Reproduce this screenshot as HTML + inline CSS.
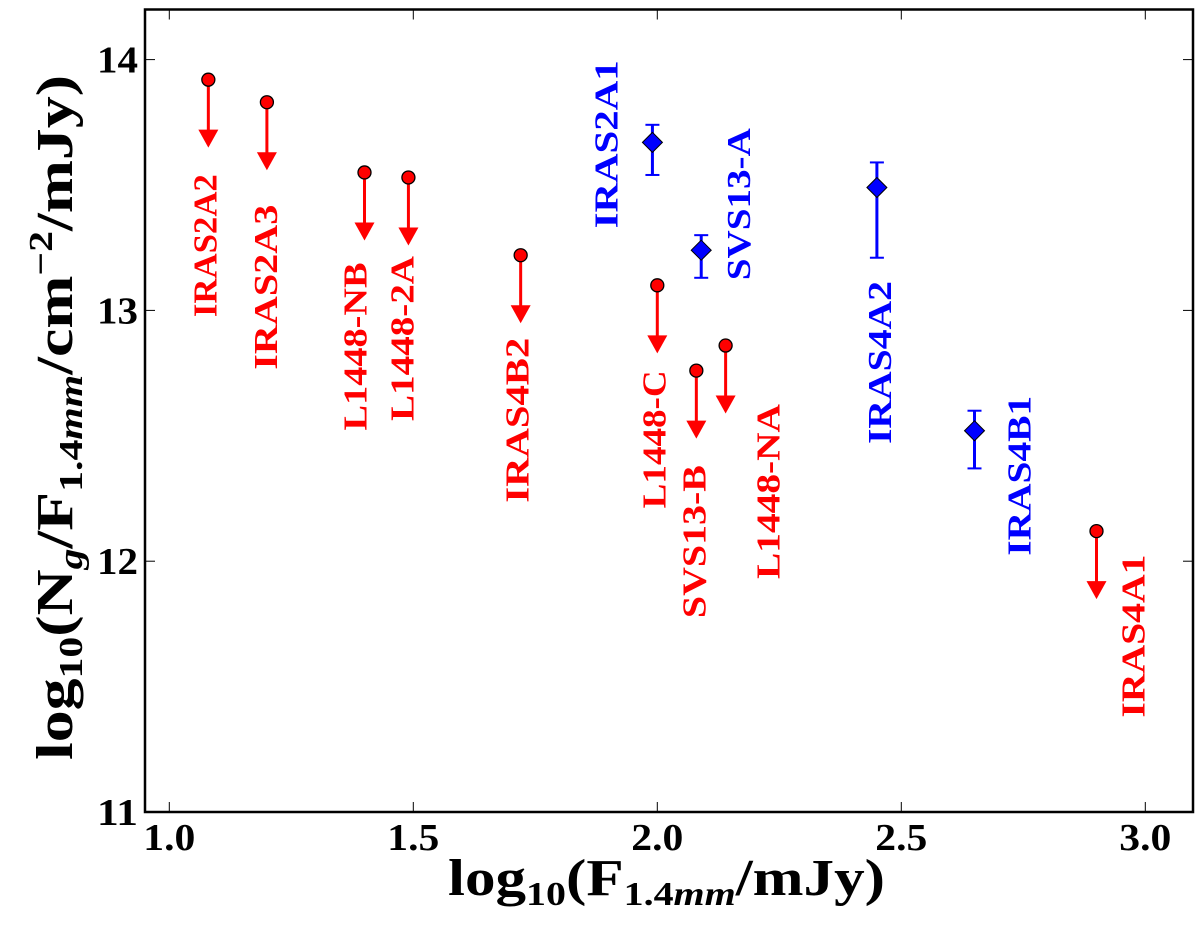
<!DOCTYPE html>
<html><head><meta charset="utf-8"><style>
body{margin:0;background:#fff;}
svg{display:block;font-family:"Liberation Serif",serif;font-weight:bold;}
</style></head><body>
<svg id="chart" width="1200" height="932" viewBox="0 0 1200 932" xmlns="http://www.w3.org/2000/svg">
<rect x="145" y="9.5" width="1048" height="802.5" fill="#fff" stroke="#000" stroke-width="2.5"/>
<g id="ticks"></g>
<g id="marks"></g>
<text x="448" y="895" font-size="52" textLength="437" lengthAdjust="spacingAndGlyphs">log<tspan font-size="34" dy="10">10</tspan><tspan dy="-10">(F</tspan><tspan font-size="34" dy="10">1.4<tspan font-style="italic">mm</tspan></tspan><tspan dy="-10">/mJy)</tspan></text>
<text transform="translate(72,760) rotate(-90)" font-size="52" textLength="685" lengthAdjust="spacingAndGlyphs">log<tspan font-size="34" dy="10">10</tspan><tspan dy="-10">(N</tspan><tspan font-size="34" font-style="italic" dy="10">g</tspan><tspan dy="-10">/F</tspan><tspan font-size="34" dy="10">1.4<tspan font-style="italic">mm</tspan></tspan><tspan dy="-10">/cm</tspan><tspan font-size="34" dy="-20">−2</tspan><tspan dy="20">/mJy)</tspan></text>
</svg>
<script>
const xTicks=[1.0,1.5,2.0,2.5,3.0];
const xTickLabels=["1.0","1.5","2.0","2.5","3.0"];
const yTicks=[11,12,13,14];
const yTickLabels=["11","12","13","14"];
const redNames=["IRAS2A2","IRAS2A3","L1448-NB","L1448-2A","IRAS4B2","L1448-C","SVS13-B","L1448-NA","IRAS4A1"];
const redX=[1.08,1.20,1.40,1.49,1.72,2.00,2.08,2.14,2.90];
const redY=[13.92,13.83,13.55,13.53,13.22,13.10,12.76,12.86,12.12];
const blueNames=["IRAS2A1","SVS13-A","IRAS4A2","IRAS4B1"];
const blueX=[1.99,2.09,2.45,2.65];
const blueY=[13.67,13.24,13.49,12.52];
const blueErrUp=[0.07,0.06,0.10,0.08];
const blueErrDown=[0.13,0.11,0.28,0.15];
const x=v=>169.3+(v-1)*488;
const y=v=>812-(v-11)*250.8;
const NS="http://www.w3.org/2000/svg";
function mk(tag,attrs,parent,txt){const e=document.createElementNS(NS,tag);for(const k in attrs)e.setAttribute(k,attrs[k]);if(txt!==undefined)e.textContent=txt;parent.appendChild(e);return e;}
const tk=document.getElementById('ticks');
xTicks.forEach((v,i)=>{
 const l=mk('line',{x1:x(v),x2:x(v),y1:812,y2:802,stroke:'#000','stroke-width':1},tk);
 
 
 const l2=mk('line',{x1:x(v),x2:x(v),y1:9.5,y2:19.5,stroke:'#000','stroke-width':1},tk);
 
 
 const t=mk('text',{x:x(v)-26,y:850,'font-size':38,textLength:52,lengthAdjust:'spacingAndGlyphs'},tk,xTickLabels[i]);
 
 
});
yTicks.forEach((v,i)=>{
 const l=mk('line',{x1:145,x2:155,y1:y(v),y2:y(v),stroke:'#000','stroke-width':1},tk);
 
 
 const l2=mk('line',{x1:1193,x2:1183,y1:y(v),y2:y(v),stroke:'#000','stroke-width':1},tk);
 
 
 const t=mk('text',{x:97,y:y(v)+13,'font-size':38,textLength:41,lengthAdjust:'spacingAndGlyphs'},tk,yTickLabels[i]);
 
 
});
const mg=document.getElementById('marks');
const redOff=[[-3,166],[-1,185],[-9,174],[-6,161],[-3,165],[-3,154],[-2,171],[43,146],[37,105]];
const redLen=[143,165,168,165,165,138,153,175,163];
redNames.forEach((n,i)=>{
 const cx=x(redX[i]),cy=y(redY[i]);
 const g=mk('g',{},mg);
 
 
 mk('line',{x1:cx,x2:cx,y1:cy,y2:cy+52,stroke:'#f00','stroke-width':3},g);
 mk('polygon',{points:`${cx-10},${cy+50} ${cx+10},${cy+50} ${cx},${cy+68}`,fill:'#f00'},g);
 mk('circle',{cx:cx,cy:cy,r:6.5,fill:'#f00',stroke:'#000','stroke-width':1.3},g);
 const lx=cx+redOff[i][0]+11,ly=cy+redOff[i][1];
 const t=mk('text',{transform:`translate(${lx},${ly}) rotate(-90)`,'text-anchor':'middle',fill:'#f00','font-size':34,textLength:redLen[i],lengthAdjust:'spacingAndGlyphs'},mg,n);
 
 
});
const blueOff=[[-46,2],[38,-46],[3,175],[45,45]];
const blueLen=[168,152,163,160];
blueNames.forEach((n,i)=>{
 const cx=x(blueX[i]),cy=y(blueY[i]);
 const g=mk('g',{},mg);
 
 
 const yt=y(blueY[i]+blueErrUp[i]),yb=y(blueY[i]-blueErrDown[i]);
 mk('line',{x1:cx,x2:cx,y1:yt,y2:yb,stroke:'#00f','stroke-width':3},g);
 mk('line',{x1:cx-7,x2:cx+7,y1:yt,y2:yt,stroke:'#00f','stroke-width':2},g);
 mk('line',{x1:cx-7,x2:cx+7,y1:yb,y2:yb,stroke:'#00f','stroke-width':2},g);
 mk('polygon',{points:`${cx},${cy-10} ${cx+10},${cy} ${cx},${cy+10} ${cx-10},${cy}`,fill:'#00f',stroke:'#000','stroke-width':1},g);
 const lx=cx+blueOff[i][0]+11,ly=cy+blueOff[i][1];
 const t=mk('text',{transform:`translate(${lx},${ly}) rotate(-90)`,'text-anchor':'middle',fill:'#00f','font-size':34,textLength:blueLen[i],lengthAdjust:'spacingAndGlyphs'},mg,n);
 
 
});
</script>
</body></html>
